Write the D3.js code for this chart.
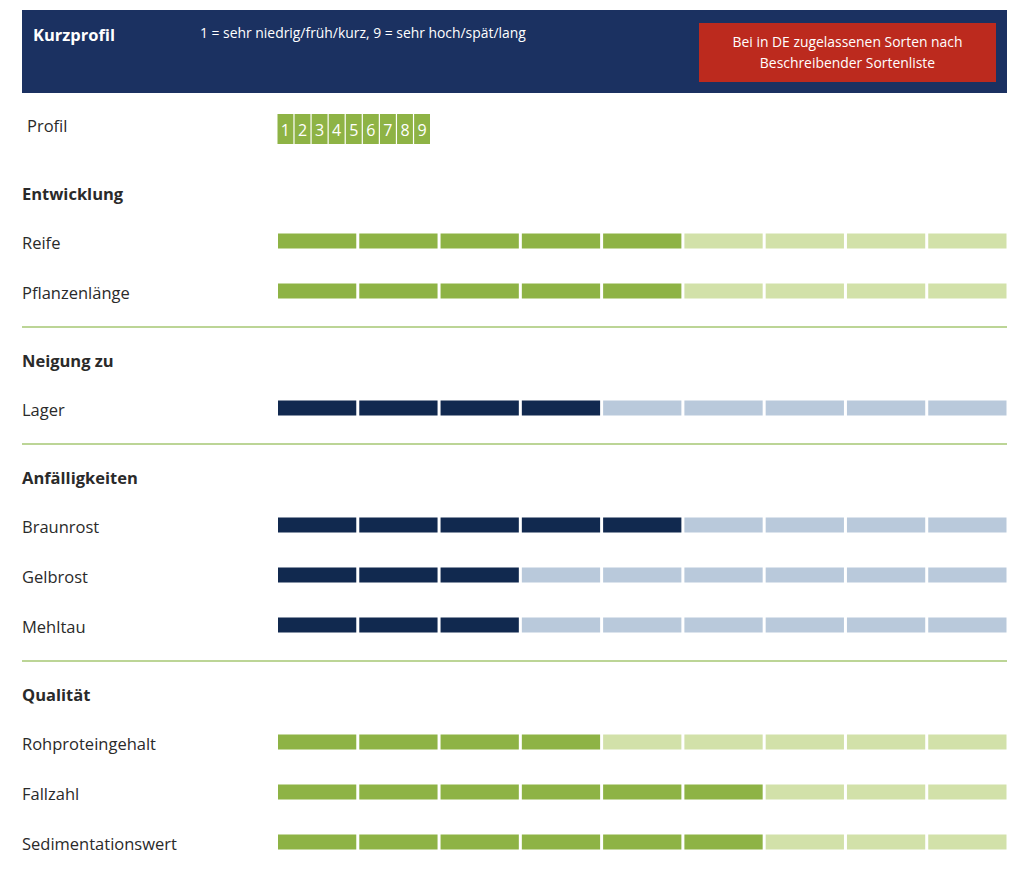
<!DOCTYPE html>
<html><head><meta charset="utf-8">
<script src="https://cdn.jsdelivr.net/npm/d3@7"></script>
<style>
body{margin:0;background:#fff;}
svg{display:block;font-family:"Open Sans",sans-serif;}
</style></head>
<body><svg id="c" width="1024" height="871"></svg>
<script>
// ---- data ----
const title = "Kurzprofil";
const scaleNote = "1 = sehr niedrig/früh/kurz, 9 = sehr hoch/spät/lang";
const badgeLines = ["Bei in DE zugelassenen Sorten nach", "Beschreibender Sortenliste"];
const levels = [1,2,3,4,5,6,7,8,9];
const groups = ["Entwicklung","Neigung zu","Anfälligkeiten","Qualität"];
const traits = ["Reife","Pflanzenlänge","Lager","Braunrost","Gelbrost","Mehltau","Rohproteingehalt","Fallzahl","Sedimentationswert"];
const traitGroup = ["Entwicklung","Entwicklung","Neigung zu","Anfälligkeiten","Anfälligkeiten","Anfälligkeiten","Qualität","Qualität","Qualität"];
const scores = [5,5,4,5,3,3,4,6,6];
const groupTheme = {"Entwicklung":"green","Neigung zu":"blue","Anfälligkeiten":"blue","Qualität":"green"};

// ---- style ----
const C = {
  header:"#1b3161", red:"#bc2a1e",
  green:"#8eb345", greenLight:"#d2e1a9",
  blue:"#11294f", blueLight:"#b9c9db",
  sep:"#bcd596", text:"#2a2a2a"
};
const svg = d3.select("#c");

// header
svg.append("rect").attr("x",22).attr("y",10).attr("width",985).attr("height",83).attr("fill",C.header);
svg.append("text").attr("x",33).attr("y",41).attr("fill","#fff").attr("font-size",16.5).attr("font-weight",700).text(title);
svg.append("text").attr("x",200).attr("y",38).attr("fill","#fff").attr("font-size",13.9).text(scaleNote);
svg.append("rect").attr("x",699).attr("y",23).attr("width",297).attr("height",59).attr("fill",C.red);
badgeLines.forEach((t,i)=>svg.append("text").attr("x",847.5).attr("y",47+i*21).attr("text-anchor","middle")
  .attr("fill","#fff").attr("font-size",13.9).text(t));

// scales
const x = d3.scaleBand().domain(levels).range([278,1006.5]).paddingInner(0.037).paddingOuter(0);
const xp = d3.scaleBand().domain(levels).range([277.5,430]).paddingInner(0.07).paddingOuter(0);

// profile row
svg.append("text").attr("x",27).attr("y",132).attr("fill",C.text).attr("font-size",16.5).text("Profil");
const pg = svg.append("g");
pg.selectAll("rect").data(levels).join("rect")
  .attr("x",d=>xp(d)).attr("y",114).attr("width",xp.bandwidth()).attr("height",30).attr("fill",C.green);
pg.selectAll("text").data(levels).join("text")
  .attr("x",d=>xp(d)+xp.bandwidth()/2).attr("y",136).attr("text-anchor","middle")
  .attr("fill","#fff").attr("font-size",16).text(d=>d);

// rows layout
let y = 194;
const rows = [];
groups.forEach((g,gi)=>{
  rows.push({type:"head", y:y, label:g});
  y += 47;
  traits.forEach((t,i)=>{
    if(traitGroup[i]===g){ rows.push({type:"trait", y:y, label:t, score:scores[i], theme:groupTheme[g]}); y += 50; }
  });
  if(gi<groups.length-1){ rows.push({type:"sep", y:y-14}); }
  y += 20;
});

rows.forEach(r=>{
  if(r.type==="sep"){
    svg.append("line").attr("x1",22).attr("x2",1007).attr("y1",r.y).attr("y2",r.y)
      .attr("stroke",C.sep).attr("stroke-width",2);
  } else if(r.type==="head"){
    svg.append("text").attr("x",22).attr("y",r.y+6).attr("fill",C.text).attr("font-size",16.5).attr("font-weight",700).text(r.label);
  } else {
    svg.append("text").attr("x",22).attr("y",r.y+8).attr("fill",C.text).attr("font-size",16.5).text(r.label);
    const dark = r.theme==="green"?C.green:C.blue, light = r.theme==="green"?C.greenLight:C.blueLight;
    svg.append("g").selectAll("rect").data(levels).join("rect")
      .attr("x",d=>x(d)).attr("y",r.y-7.5).attr("width",x.bandwidth()).attr("height",15)
      .attr("fill",d=>d<=r.score?dark:light);
  }
});
</script></body></html>
